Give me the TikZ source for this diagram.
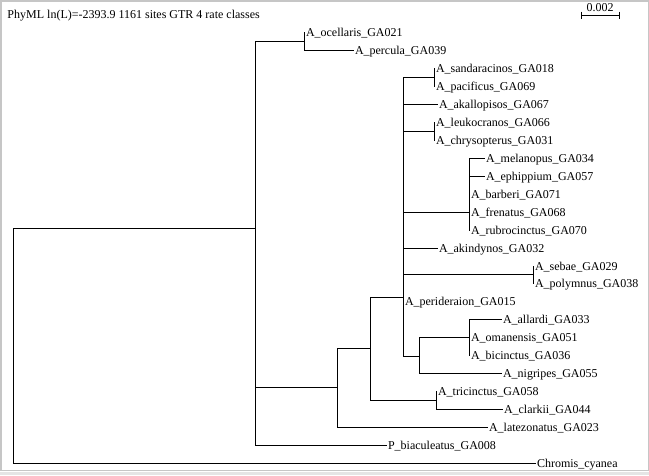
\documentclass[tikz,border=0pt]{standalone}
\usepackage{fontspec}
\setmainfont{Liberation Serif}
\begin{document}
\begin{tikzpicture}[x=1pt,y=-1pt,line width=1pt,line cap=rect,
	leaf/.style={anchor=west,inner xsep=1.5pt,inner ysep=0pt,text height=8pt,text depth=0pt,font=\fontsize{12pt}{14pt}\selectfont},
	frame/.style={draw=gray!45,line width=1.5pt}]
	\useasboundingbox (0,0) rectangle (649,475);
	\draw[frame] (0.75,0.75) rectangle (648.25,470.5);
	\fill[gray!20] (0,471.5) rectangle (649,475);
	\node[anchor=base west,inner sep=0pt,font=\fontsize{12pt}{14pt}\selectfont] (title) at (7,18) {PhyML ln(L)=-2393.9 1161 sites GTR 4 rate classes};
	\node[anchor=base,inner sep=0pt,font=\fontsize{12pt}{14pt}\selectfont] (scale) at (600,11.5) {0.002};
	\coordinate (sbl) at (581,15);
	\coordinate (sbr) at (619,15);
	\draw[line cap=butt] (sbl) -- (sbr) (sbl)+(0,-3.5) -- +(0,3.5) (sbr)+(0,-3.5) -- +(0,3.5);
	\node[leaf] (ocel) at (304,32) {A\_ocellaris\_GA021};
	\node[leaf] (perc) at (353,50) {A\_percula\_GA039};
	\node[leaf] (sand) at (434,68) {A\_sandaracinos\_GA018};
	\node[leaf] (paci) at (434,86) {A\_pacificus\_GA069};
	\node[leaf] (akal) at (437,104) {A\_akallopisos\_GA067};
	\node[leaf] (leuk) at (434,122) {A\_leukocranos\_GA066};
	\node[leaf] (chry) at (434,140) {A\_chrysopterus\_GA031};
	\node[leaf] (mela) at (484,158) {A\_melanopus\_GA034};
	\node[leaf] (ephi) at (484,176) {A\_ephippium\_GA057};
	\node[leaf] (barb) at (469,194) {A\_barberi\_GA071};
	\node[leaf] (fren) at (469,212) {A\_frenatus\_GA068};
	\node[leaf] (rubr) at (469,230) {A\_rubrocinctus\_GA070};
	\node[leaf] (akin) at (437,248) {A\_akindynos\_GA032};
	\node[leaf] (seba) at (533,266) {A\_sebae\_GA029};
	\node[leaf] (poly) at (533,283) {A\_polymnus\_GA038};
	\node[leaf] (peri) at (403,301) {A\_perideraion\_GA015};
	\node[leaf] (alla) at (501,319) {A\_allardi\_GA033};
	\node[leaf] (oman) at (469,337) {A\_omanensis\_GA051};
	\node[leaf] (bici) at (469,355) {A\_bicinctus\_GA036};
	\node[leaf] (nigr) at (501,373) {A\_nigripes\_GA055};
	\node[leaf] (tric) at (436,391) {A\_tricinctus\_GA058};
	\node[leaf] (clar) at (502,409) {A\_clarkii\_GA044};
	\node[leaf] (late) at (487,427) {A\_latezonatus\_GA023};
	\node[leaf] (biac) at (386,445) {P\_biaculeatus\_GA008};
	\node[leaf] (chro) at (535,463) {Chromis\_cyanea};
	\coordinate (root) at (13,345);
	\coordinate (ingr) at (255,228);
	\coordinate (ocpe) at (304,41);
	\coordinate (amph) at (337,387);
	\coordinate (core) at (370,348);
	\coordinate (cltr) at (436,400);
	\coordinate (anem) at (403,297);
	\coordinate (sapa) at (434,77);
	\coordinate (lech) at (434,131);
	\coordinate (mefr) at (469,212);
	\coordinate (sepo) at (533,274);
	\coordinate (alni) at (419,356);
	\coordinate (alom) at (469,337);
	\draw (root) |- (ingr) (root) |- (chro.west);
	\draw (ingr) |- (ocpe) (ingr) |- (amph) (ingr) |- (biac.west);
	\draw (ocpe) |- (ocel.west) (ocpe) |- (perc.west);
	\draw (amph) |- (core) (amph) |- (late.west);
	\draw (core) |- (anem) (core) |- (cltr);
	\draw (cltr) |- (tric.west) (cltr) |- (clar.west);
	\draw (anem) |- (sapa) (anem) |- (akal.west) (anem) |- (lech) (anem) |- (mefr) (anem) |- (akin.west) (anem) |- (sepo) (anem) |- (peri.west) (anem) |- (alni);
	\draw (sapa) |- (sand.west) (sapa) |- (paci.west);
	\draw (lech) |- (leuk.west) (lech) |- (chry.west);
	\draw (mefr) |- (mela.west) (mefr) |- (ephi.west) (mefr) |- (barb.west) (mefr) |- (fren.west) (mefr) |- (rubr.west);
	\draw (sepo) |- (seba.west) (sepo) |- (poly.west);
	\draw (alni) |- (alom) (alni) |- (nigr.west);
	\draw (alom) |- (alla.west) (alom) |- (oman.west) (alom) |- (bici.west);
\end{tikzpicture}
\end{document}
